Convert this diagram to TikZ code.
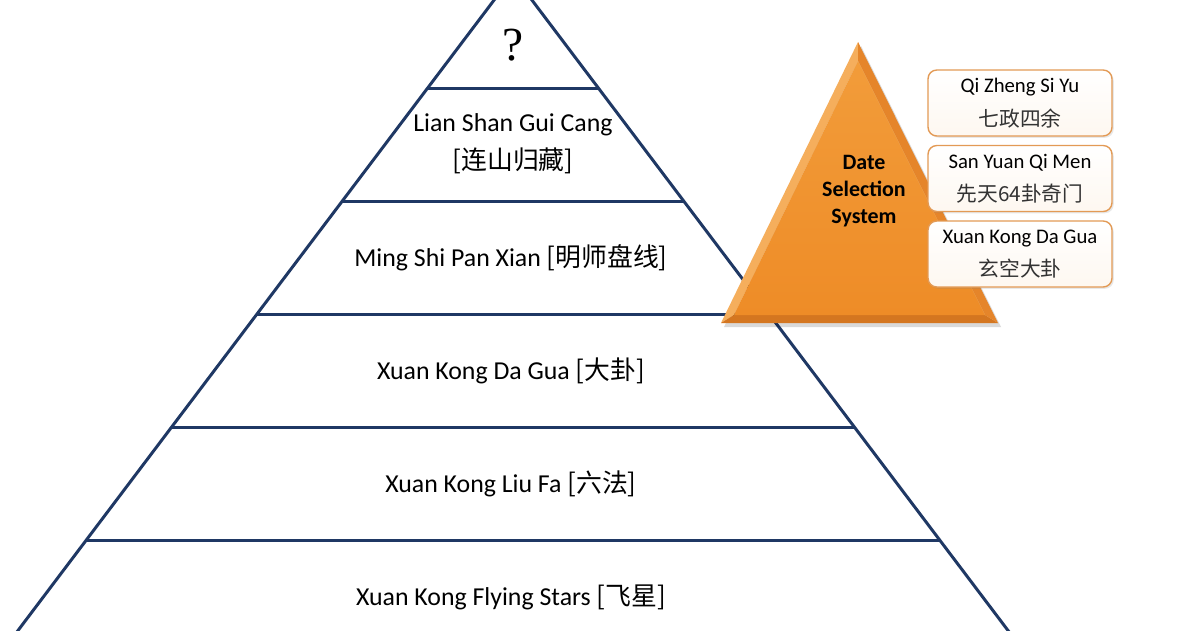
\documentclass[tikz,border=0pt]{standalone}
\usepackage{fontspec}
\setmainfont{Carlito}
\newfontfamily\cjk{Noto Sans CJK SC}
\newfontfamily\qfont{Liberation Serif}
\usepackage{tikz}
\usetikzlibrary{shadows}
\usepackage{xcolor}
\definecolor{navy}{HTML}{1F3864}
\definecolor{amber}{HTML}{F0952D}
\definecolor{topamber}{HTML}{F29C3A}
\definecolor{lowamber}{HTML}{EE8C27}
\definecolor{paleamber}{HTML}{F5AE5C}
\definecolor{deepamber}{HTML}{D47620}
\definecolor{midamber}{HTML}{E5852A}
\definecolor{boxedge}{HTML}{E39A55}

\begin{document}
\begin{tikzpicture}[x=0.02cm, y=-0.02cm,
  tier/.style={font=\fontsize{14.7}{21.6}\selectfont, align=center, inner sep=0pt},
  pick/.style={draw=boxedge, line width=0.8pt, rounded corners=5pt,
    top color=white, bottom color=amber!7, align=center,
    minimum width=3.68cm, minimum height=1.32cm, inner sep=0pt,
    font=\fontsize{11.8}{19}\selectfont,
    drop shadow={opacity=0.18, shadow xshift=1pt, shadow yshift=-1pt}}]
  \useasboundingbox (0,0) rectangle (1200,630);
  \fill[white] (0,0) rectangle (1200,630);
  \clip (0,0) rectangle (1200,630);
  % pyramid
  \draw[navy, line width=1.7pt] (1,653) -- (513,-25) -- (1025,653);
  \foreach \k in {1,...,5} {
    \pgfmathsetmacro\yy{-25+113*\k}
    \pgfmathsetmacro\hw{113*\k*0.755}
    \draw[navy, line width=1.7pt] (513-\hw,\yy) -- (513+\hw,\yy);
  }
  \node[font=\qfont\fontsize{27}{30}\selectfont] (cap) at (513,45) {?};
  \node[tier] (lsgc) at (513,144) {Lian Shan Gui Cang\\{\cjk [连山归藏]}};
  \node[tier] (msp) at (511,258) {Ming Shi Pan Xian {\cjk [明师盘线]}};
  \node[tier] (xkdg) at (511,371) {Xuan Kong Da Gua {\cjk [大卦]}};
  \node[tier] (xklf) at (511,484) {Xuan Kong Liu Fa {\cjk [六法]}};
  \node[tier] (xkfs) at (511,597) {Xuan Kong Flying Stars {\cjk [飞星]}};
  % date selection triangle
  \fill[black, opacity=0.15] (861,46) -- (724,327) -- (1001,327) -- cycle;
  \fill[paleamber] (858,42) -- (721,323) -- (734,315) -- (858,61) -- cycle;
  \fill[deepamber] (721,323) -- (998,323) -- (985,315) -- (734,315) -- cycle;
  \fill[midamber] (858,42) -- (998,323) -- (985,315) -- (858,61) -- cycle;
  \shade[top color=topamber, bottom color=lowamber]
    (858,61) -- (734,315) -- (985,315) -- cycle;
  \node[font=\bfseries\fontsize{12.5}{15.3}\selectfont, align=center] (dss) at (864,191)
    {Date\\Selection\\System};
  \node[pick] (qzsy) at (1020,103) {Qi Zheng Si Yu\\{\cjk\color{black!80}七政四余}};
  \node[pick] (syqm) at (1020,178.5) {San Yuan Qi Men\\{\cjk\color{black!80}先天64卦奇门}};
  \node[pick] (xkdgb) at (1020,254) {Xuan Kong Da Gua\\{\cjk\color{black!80}玄空大卦}};
\end{tikzpicture}
\end{document}
